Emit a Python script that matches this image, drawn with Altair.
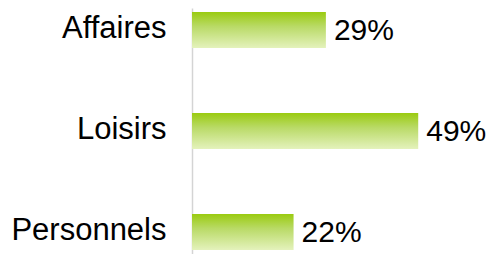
import altair as alt
import pandas as pd

categories = ["Affaires", "Loisirs", "Personnels"]
values = [29, 49, 22]
labels = ["29%", "49%", "22%"]

df = pd.DataFrame({"cat": categories, "val": values, "lab": labels})

FONT = "Liberation Sans"

grad = alt.Gradient(
    gradient="linear",
    stops=[
        alt.GradientStop(color="#9ACB10", offset=0),
        alt.GradientStop(color="#B9DA66", offset=0.4),
        alt.GradientStop(color="#E4F2BC", offset=1),
    ],
    x1=0, x2=0, y1=0, y2=1,
)

y_enc = alt.Y(
    "cat:N",
    sort=categories,
    scale=alt.Scale(paddingInner=0.644, paddingOuter=0.04),
    axis=alt.Axis(
        title=None,
        ticks=False,
        grid=False,
        domain=True,
        domainColor="#D4D4D4",
        domainWidth=1.5,
        labelFont=FONT,
        labelFontSize=31,
        labelColor="#000000",
        labelPadding=26,
        labelBaseline="middle",
        labelOffset=-1,
    ),
)
x_enc = alt.X("val:Q", scale=alt.Scale(domain=[0, 60]), axis=None)

bars = alt.Chart(df).mark_bar(color=grad).encode(x=x_enc, y=y_enc)
text = alt.Chart(df).mark_text(
    align="left", baseline="middle", dx=8, dy=1, font=FONT, fontSize=30, color="#000000"
).encode(x=x_enc, y=y_enc, text="lab:N")

chart = (
    alt.layer(bars, text)
    .properties(
        width=277,
        height=246,
        autosize=alt.AutoSizeParams(type="none"),
        padding={"left": 184, "top": 0, "right": 17, "bottom": 0},
    )
    .configure_view(stroke=None)
)

chart.save("out.html", embed_options={"renderer": "svg", "actions": False})
